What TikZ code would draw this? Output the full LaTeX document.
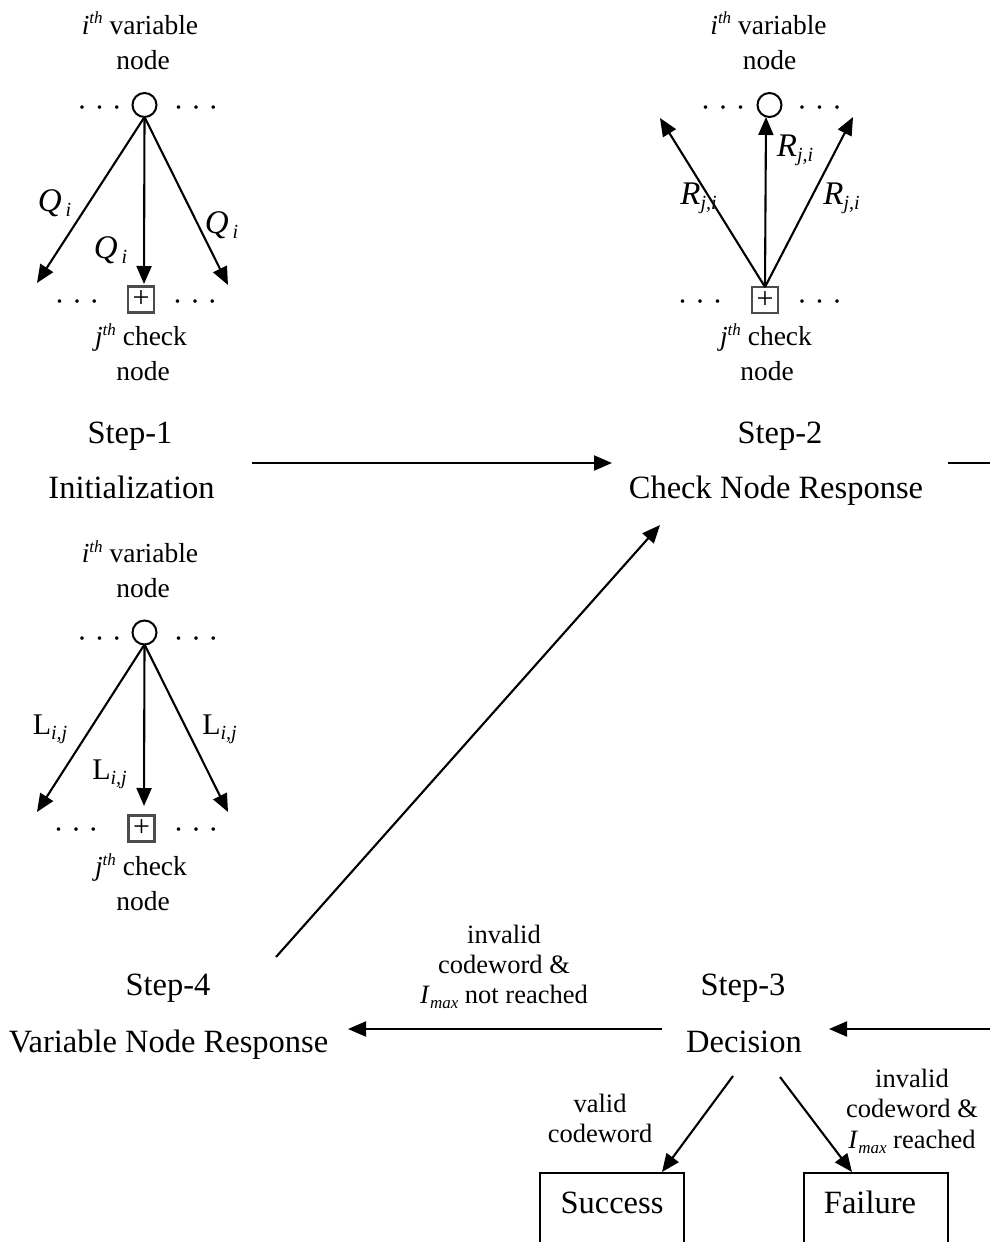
\documentclass[tikz,border=0pt]{standalone}
\usepackage{fontspec}
\setmainfont{Liberation Serif}
\usetikzlibrary{arrows.meta}
\newcommand\subx[2][20]{\raisebox{-5pt}{\fontsize{#1}{#1}\selectfont\itshape #2}}
\newcommand\supx[1]{\raisebox{10pt}{\fontsize{17}{17}\selectfont\itshape #1}}
\begin{document}
\begin{tikzpicture}[x=1pt,y=-1pt,
  every node/.style={inner sep=0pt, outer sep=0pt},
  txt/.style={font=\fontsize{32.5}{39}\selectfont, anchor=base},
  lbl/.style={font=\fontsize{27.5}{32}\selectfont, anchor=base},
  cond/.style={font=\fontsize{26.5}{30}\selectfont, anchor=base},
  msg/.style={font=\fontsize{33}{38}\selectfont, anchor=base},
  lmsg/.style={font=\fontsize{30}{34}\selectfont, anchor=base},
  dotrow/.style={font=\fontsize{30}{30}\selectfont, anchor=base},
  varnode/.style={circle, draw, line width=2pt, minimum size=24pt},
  chknode/.style={rectangle, draw=black!70, line width=2.4pt, minimum size=26pt, font=\fontsize{30}{30}\selectfont},
  arr/.style={line width=2.1pt, -{Triangle[length=18pt,width=15pt]}},
  ln/.style={line width=2.1pt},
  resbox/.style={draw, line width=2pt}
]
\path[use as bounding box, clip] (0,0) rectangle (990,1242);

% ---------- Step-1 panel ----------
\node[lbl] (v1t) at (140,34) {\textit{i}\supx{th} variable};
\node[lbl] (v1n) at (143,69) {node};
\node[varnode] (v1) at (144.5,105) {};
\node[dotrow] (d1a) at (99.5,117) {· · ·};
\node[dotrow] (d1b) at (196,117) {· · ·};
\node[chknode] (c1) at (141,299.5) {+};
\node[dotrow] (d1c) at (77,311) {· · ·};
\node[dotrow] (d1d) at (195,311) {· · ·};
\node[lbl] (c1t) at (141,345) {\textit{j}\supx{th} check};
\node[lbl] (c1n) at (143,380) {node};
\coordinate (t1a) at (37,283);
\coordinate (t1b) at (144,284);
\coordinate (t1c) at (228,285);
\draw[arr] (v1.south) -- (t1a);
\draw[arr] (v1.south) -- (t1b);
\draw[arr] (v1.south) -- (t1c);
\node[msg] (q1a) at (54.5,211) {\textit{Q}\hspace{4pt}\subx{i}};
\node[msg] (q1b) at (110.5,258) {\textit{Q}\hspace{4pt}\subx{i}};
\node[msg] (q1c) at (221.5,233) {\textit{Q}\hspace{4pt}\subx{i}};

% ---------- Step-2 panel ----------
\node[lbl] (v2t) at (768.5,34) {\textit{i}\supx{th} variable};
\node[lbl] (v2n) at (769.5,69) {node};
\node[varnode] (v2) at (769.5,105) {};
\node[dotrow] (d2a) at (723,117) {· · ·};
\node[dotrow] (d2b) at (819.5,117) {· · ·};
\node[chknode] (c2) at (765,300) {+};
\node[dotrow] (d2c) at (700,311) {· · ·};
\node[dotrow] (d2d) at (819.5,311) {· · ·};
\node[lbl] (c2t) at (766,345) {\textit{j}\supx{th} check};
\node[lbl] (c2n) at (767,380) {node};
\coordinate (t2a) at (660,118);
\coordinate (t2b) at (766,117);
\coordinate (t2c) at (853,117);
\draw[arr] (c2.north) -- (t2a);
\draw[arr] (c2.north) -- (t2b);
\draw[arr] (c2.north) -- (t2c);
\node[msg] (r2a) at (698.5,204) {\textit{R}\subx{j,i}};
\node[msg] (r2b) at (795,156) {\textit{R}\subx{j,i}};
\node[msg] (r2c) at (841.5,204) {\textit{R}\subx{j,i}};

% ---------- Step-4 panel ----------
\node[lbl] (v4t) at (140,562) {\textit{i}\supx{th} variable};
\node[lbl] (v4n) at (143,597) {node};
\node[varnode] (v4) at (144.5,632.5) {};
\node[dotrow] (d4a) at (99.5,648) {· · ·};
\node[dotrow] (d4b) at (196,648) {· · ·};
\node[chknode] (c4) at (141.5,828.5) {+};
\node[dotrow] (d4c) at (76,839) {· · ·};
\node[dotrow] (d4d) at (196,839) {· · ·};
\node[lbl] (c4t) at (141,875) {\textit{j}\supx{th} check};
\node[lbl] (c4n) at (143,910) {node};
\coordinate (t4a) at (37,812);
\coordinate (t4b) at (144,806);
\coordinate (t4c) at (228,812);
\draw[arr] (v4.south) -- (t4a);
\draw[arr] (v4.south) -- (t4b);
\draw[arr] (v4.south) -- (t4c);
\node[lmsg] (l4a) at (50,734) {L\subx{i,j}};
\node[lmsg] (l4b) at (109.5,779) {L\subx{i,j}};
\node[lmsg] (l4c) at (219.5,734) {L\subx{i,j}};

% ---------- step titles ----------
\node[txt] (s1) at (130,443) {Step-1};
\node[txt] (s1n) at (131.5,498) {Initialization};
\node[txt] (s2) at (780,443) {Step-2};
\node[txt] (s2n) at (776,498) {Check Node Response};
\node[txt] (s4) at (168,995) {Step-4};
\node[txt] (s4n) at (168.5,1052) {Variable Node Response};
\node[txt] (s3) at (743,995) {Step-3};
\node[txt] (s3n) at (744,1052) {Decision};

% ---------- flow arrows ----------
\coordinate (a12s) at (252,463);
\coordinate (a12e) at (612,463);
\draw[arr] (a12s) -- (a12e);
\coordinate (a2rs) at (948,463);
\coordinate (a2re) at (1000,463);
\draw[ln] (a2rs) -- (a2re);
\coordinate (a42s) at (276,957);
\coordinate (a42e) at (660,525);
\draw[arr] (a42s) -- (a42e);
\coordinate (a34s) at (662,1029);
\coordinate (a34e) at (348,1029);
\draw[arr] (a34s) -- (a34e);
\coordinate (ar3s) at (1000,1029);
\coordinate (ar3e) at (829,1029);
\draw[arr] (ar3s) -- (ar3e);

% ---------- outcome boxes ----------
\node[resbox, minimum width=144pt, minimum height=100pt, anchor=north west] (succ) at (540,1173) {};
\node[resbox, minimum width=144pt, minimum height=100pt, anchor=north west] (fail) at (804,1173) {};
\node[txt] (succt) at (612,1213) {Success};
\node[txt] (failt) at (870,1213) {Failure};
\coordinate (ds) at (733,1076);
\coordinate (df) at (780,1077);
\coordinate (dse) at (662,1172);
\coordinate (dfe) at (852,1172);
\draw[arr] (ds) -- (dse);
\draw[arr] (df) -- (dfe);

% ---------- condition labels ----------
\node[cond] (ca1) at (504,943) {invalid};
\node[cond] (ca2) at (504,973) {codeword \&};
\node[cond] (ca3) at (504,1003) {\textit{I}\subx[17]{max} not reached};
\node[cond] (cb1) at (600,1112) {valid};
\node[cond] (cb2) at (600,1142) {codeword};
\node[cond] (cc1) at (912,1087) {invalid};
\node[cond] (cc2) at (912,1117) {codeword \&};
\node[cond] (cc3) at (912,1148) {\textit{I}\subx[17]{max} reached};
\end{tikzpicture}
\end{document}
